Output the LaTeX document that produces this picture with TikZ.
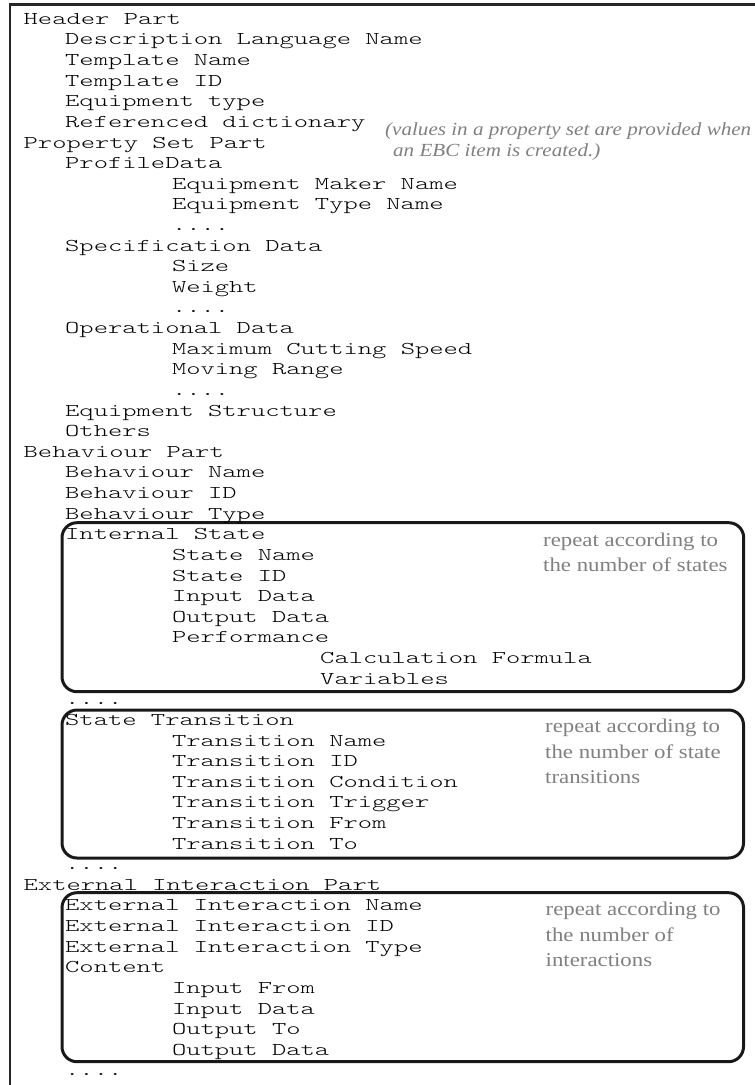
\documentclass[tikz,border=0pt]{standalone}
\usepackage{fontspec}
\newfontfamily\cour{lmmonolt10-regular.otf}[FakeStretch=1.513]
\newfontfamily\notefont{Liberation Serif}[FakeStretch=1.17]
\newfontfamily\inotefont{Liberation Serif}[FakeStretch=1.14]
\newcommand\fourdots{....}
\tikzset{
  mono/.style={anchor=base west, inner sep=0pt, font=\cour\fontsize{18}{20}\selectfont},
  note/.style={anchor=base west, inner sep=0pt, text=black!50, font=\notefont\fontsize{19.5}{24}\selectfont},
  inote/.style={anchor=base west, inner sep=0pt, text=black!50, font=\inotefont\itshape\fontsize{18.5}{22}\selectfont},
  frameline/.style={line width=2.5pt, draw=black!85},
  groupbox/.style={line width=3pt, rounded corners=15pt, draw=black!90},
}
\begin{document}
\begin{tikzpicture}[x=1pt,y=-1pt]
\useasboundingbox (0,0) rectangle (755,1085);
\draw[frameline] (10,1085) -- (10,4.3) -- (755,4.3);
\draw[groupbox] (62,522.7) rectangle (743.7,691.7);
\draw[groupbox] (62,710) rectangle (743.5,858);
\draw[groupbox] (62,892.7) rectangle (743.5,1061.7);
\foreach \x/\t [count=\i from 0] in {
 23.5/Header Part,
 65/Description Language Name,
 65/Template Name,
 65/Template ID,
 65/Equipment type,
 65/Referenced dictionary,
 23.5/Property Set Part,
 65/ProfileData,
 171.8/Equipment Maker Name,
 171.8/Equipment Type Name,
 171.8/\fourdots,
 65/Specification Data,
 171.8/Size,
 171.8/Weight,
 171.8/\fourdots,
 65/Operational Data,
 171.8/Maximum Cutting Speed,
 171.8/Moving Range,
 171.8/\fourdots,
 65/Equipment Structure,
 65/Others,
 23.5/Behaviour Part,
 65/Behaviour Name,
 65/Behaviour ID,
 65/Behaviour Type,
 65/Internal State,
 171.8/State Name,
 171.8/State ID,
 171.8/Input Data,
 171.8/Output Data,
 171.8/Performance,
 320/Calculation Formula,
 320/Variables,
 65/\fourdots,
 65/State Transition,
 171.8/Transition Name,
 171.8/Transition ID,
 171.8/Transition Condition,
 171.8/Transition Trigger,
 171.8/Transition From,
 171.8/Transition To,
 65/\fourdots,
 23.5/External Interaction Part,
 65/External Interaction Name,
 65/External Interaction ID,
 65/External Interaction Type,
 65/Content,
 171.8/Input From,
 171.8/Input Data,
 171.8/Output To,
 171.8/Output Data,
 65/\fourdots}
 \node[mono] (l\i) at (\x,{24.3+20.62*\i}) {\t};
\node[inote] (pn1) at (385,135) {(values in a property set are provided when};
\node[inote] (pn2) at (393,156.7) {an EBC item is created.)};
\node[note] (a1) at (543,546.7) {repeat according to};
\node[note] (a2) at (543,571.7) {the number of states};
\node[note] (b1) at (545,732.3) {repeat according to};
\node[note] (b2) at (545,758) {the number of state};
\node[note] (b3) at (545,783) {transitions};
\node[note] (c1) at (545.5,915) {repeat according to};
\node[note] (c2) at (545.5,941.7) {the number of};
\node[note] (c3) at (545.5,966.7) {interactions};
\end{tikzpicture}
\end{document}
